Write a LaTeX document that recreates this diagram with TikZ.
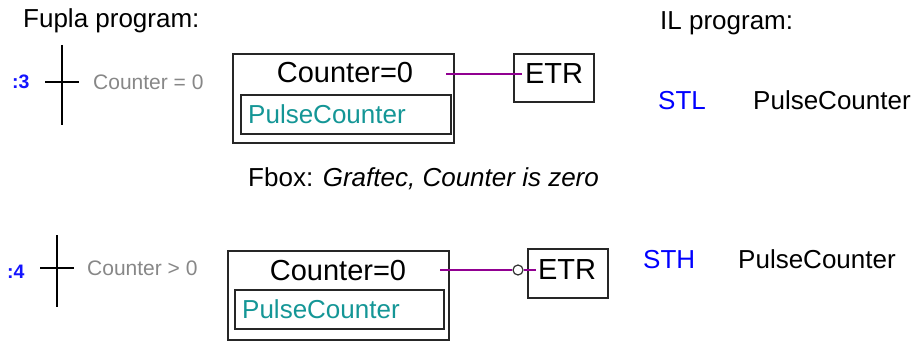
\documentclass[tikz,border=0pt]{standalone}
\usepackage{fontspec}
\setmainfont{Liberation Sans}
\usepackage{xcolor}
\usetikzlibrary{positioning}
\definecolor{stepblue}{RGB}{20,20,255}
\definecolor{ilblue}{RGB}{0,0,255}
\definecolor{varteal}{RGB}{20,150,150}
\definecolor{condgray}{RGB}{135,135,135}
\definecolor{wirepurple}{RGB}{145,0,145}

\begin{document}
\begin{tikzpicture}[
  x=1pt, y=-1pt,
  lbl/.style={inner sep=0pt, anchor=base west, font=\fontsize{26}{30}\selectfont},
  stepnum/.style={inner sep=0pt, anchor=base west, text=stepblue,
                  font=\fontsize{19.5}{22}\selectfont\bfseries},
  cond/.style={inner sep=0pt, anchor=west, text=condgray,
               font=\fontsize{21}{25}\selectfont},
  trline/.style={draw=black, line width=1.6pt},
  outerbox/.style={rectangle, draw=black!85, line width=2pt, inner sep=0pt,
                   minimum width=221pt, minimum height=89pt},
  innerbox/.style={rectangle, draw=black!85, line width=2pt, inner sep=0pt,
                   minimum width=210pt, minimum height=39pt},
  boxtxt/.style={inner sep=0pt, font=\fontsize{29}{34}\selectfont},
  vartxt/.style={inner sep=0pt, anchor=west, text=varteal,
                 font=\fontsize{26}{30}\selectfont},
  etrbox/.style={rectangle, draw=black!85, line width=2pt, inner sep=0pt,
                 minimum width=80pt, minimum height=48pt},
  wire/.style={draw=wirepurple, line width=1.6pt},
  negcirc/.style={circle, draw=black!80, line width=1.2pt, inner sep=0pt,
                  minimum size=10pt}
]
\useasboundingbox (0,0) rectangle (919,342);
%% ── Headings ────────────────────────────────────────────────────────────
\node[lbl] (fupla) at (23,28)  {Fupla program:};
\node[lbl] (ilprg) at (660,30) {IL program:};
%% ── Step 3: transition with condition ───────────────────────────────────
\node[stepnum] (s3) at (12,88.5) {:3};
\draw[trline] (62,45) -- (62,125);
\draw[trline] (45,82) -- (79,82);
\node[cond] (c3) at (93,82) {Counter = 0};
%% ── Step 3: function box ────────────────────────────────────────────────
\node[outerbox] (fb3) at (343.5,98.5) {};
\node[boxtxt]   (cnt3) at (345,73) {Counter=0};
\node[innerbox] (in3) at (346,114.5) {};
\node[vartxt]   (pc3) at (248,114) {PulseCounter};
\node[etrbox]   (etr3) at (554,78) {};
\node[boxtxt]   (e3) at (554,74) {ETR};
\coordinate (w3a) at (446,74);
\draw[wire] (w3a) -- ([xshift=9pt]etr3.west |- w3a);
%% ── Caption ─────────────────────────────────────────────────────────────
\node[lbl] (cap) at (248,187) {Fbox: \textit{Graftec, Counter is zero}};
%% ── IL code, step 3 ─────────────────────────────────────────────────────
\node[lbl, text=ilblue] (stl) at (658,110) {STL};
\node[lbl] (il3) at (753,110) {PulseCounter};
%% ── Step 4: transition with condition ───────────────────────────────────
\node[stepnum] (s4) at (7,278.5) {:4};
\draw[trline] (57,235) -- (57,307);
\draw[trline] (40,268) -- (74,268);
\node[cond] (c4) at (87,268) {Counter > 0};
%% ── Step 4: function box with negated output ────────────────────────────
\node[outerbox] (fb4) at (338,295) {};
\node[boxtxt]   (cnt4) at (338,271) {Counter=0};
\node[innerbox, minimum width=209pt] (in4) at (339.5,309.5) {};
\node[vartxt]   (pc4) at (242,309) {PulseCounter};
\node[etrbox, minimum height=49pt] (etr4) at (568,273.5) {};
\node[boxtxt]   (e4) at (567,270) {ETR};
\node[negcirc]  (neg4) at (518,270) {};
\coordinate (w4a) at (440,270);
\draw[wire] (w4a) -- (neg4.west);
\draw[wire] (neg4.east) -- ([xshift=9pt]etr4.west |- neg4);
%% ── IL code, step 4 ─────────────────────────────────────────────────────
\node[lbl, text=ilblue] (sth) at (643,269) {STH};
\node[lbl] (il4) at (738,269) {PulseCounter};
\end{tikzpicture}
\end{document}
